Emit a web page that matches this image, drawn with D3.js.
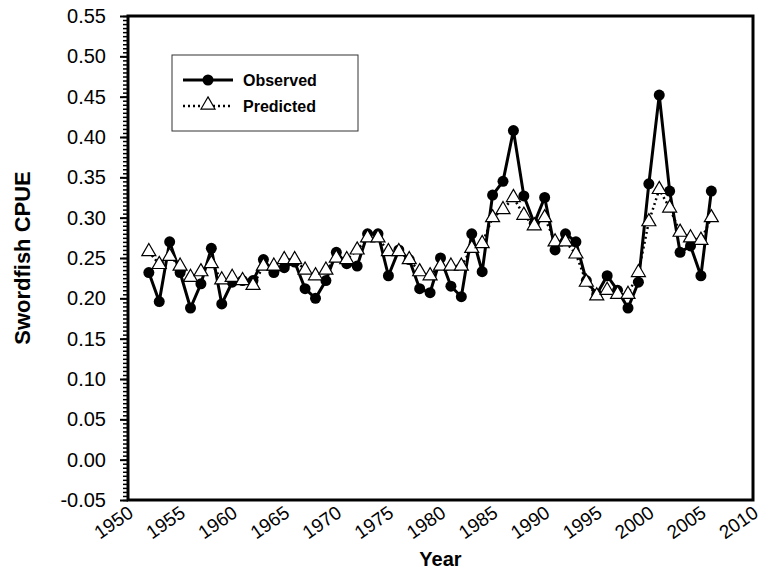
<!DOCTYPE html>
<html>
<head>
<meta charset="utf-8">
<script src="https://cdn.jsdelivr.net/npm/d3@7"></script>
<style>
  body { margin: 0; background: #fff; }
  text { font-family: "Liberation Sans", Arial, sans-serif; }
</style>
</head>
<body>
<div id="chart"></div>
<script>
// years on the x axis
const years = [1952,1953,1954,1955,1956,1957,1958,1959,1960,1961,1962,1963,1964,1965,1966,1967,1968,1969,
  1970,1971,1972,1973,1974,1975,1976,1977,1978,1979,1980,1981,1982,1983,1984,1985,1986,1987,1988,1989,
  1990,1991,1992,1993,1994,1995,1996,1997,1998,1999,2000,2001,2002,2003,2004,2005,2006]

// observed CPUE (filled circles)
const observed = [0.232,0.196,0.270,0.232,0.188,0.218,0.262,0.193,0.220,0.222,0.222,0.248,0.232,0.238,0.245,0.212,0.200,0.222,
  0.257,0.243,0.240,0.280,0.280,0.228,0.260,0.248,0.212,0.207,0.250,0.215,0.202,0.280,0.233,0.328,0.345,0.408,0.327,0.293,
  0.325,0.260,0.280,0.270,0.222,0.205,0.228,0.210,0.188,0.220,0.342,0.452,0.333,0.257,0.265,0.228,0.333]

// predicted CPUE (open triangles)
const predicted = [0.258,0.242,0.252,0.240,0.226,0.233,0.243,0.223,0.226,0.222,0.216,0.240,0.240,0.248,0.248,0.235,0.228,0.235,
  0.250,0.248,0.260,0.275,0.275,0.258,0.258,0.248,0.233,0.228,0.240,0.240,0.240,0.262,0.268,0.300,0.310,0.325,0.303,0.290,
  0.300,0.270,0.270,0.255,0.220,0.203,0.210,0.205,0.205,0.232,0.295,0.335,0.312,0.282,0.275,0.272,0.300]

const xTicks = [1950,1955,1960,1965,1970,1975,1980,1985,1990,1995,2000,2005,2010]
const yTicks = [-0.05,0.00,0.05,0.10,0.15,0.20,0.25,0.30,0.35,0.40,0.45,0.50,0.55]

const W = 762, H = 573
var margin = {top: 16, right: 9, bottom: 73, left: 128}
var width = W - margin.left - margin.right,
    height = H - margin.top - margin.bottom

const svg = d3.select("#chart").append("svg")
  .attr("width", W)
  .attr("height", H)

svg.append("rect").attr("width", W).attr("height", H).attr("fill", "#fff")

const g = svg.append("g")
  .attr("transform", "translate(" + margin.left + "," + margin.top + ")")

const x = d3.scaleLinear().domain([1950, 2010]).range([0, width])
const y = d3.scaleLinear().domain([-0.05, 0.55]).range([height, 0])

// minor ticks on y every 0.005
const yMinor = d3.range(-50, 551, 5).map(d => d / 1000)
g.append("g")
  .call(d3.axisLeft(y).tickValues(yMinor).tickSize(5).tickFormat(""))
  .call(a => a.select(".domain").remove())
  .selectAll("line").attr("stroke", "#000").attr("stroke-width", 1.5)

// major y axis
g.append("g")
  .call(d3.axisLeft(y).tickValues(yTicks).tickSize(8).tickPadding(14)
    .tickFormat(d => d3.format(".2f")(d).replace("\u2212", "-")))
  .call(a => a.select(".domain").remove())
  .call(a => a.selectAll("line").attr("stroke", "#000").attr("stroke-width", 2))
  .selectAll("text")
    .attr("fill", "#000")
    .style("font-size", "20px")

// x axis, labels slanted
g.append("g")
  .attr("transform", "translate(0," + height + ")")
  .call(d3.axisBottom(x).tickValues(xTicks).tickSize(0).tickPadding(0).tickFormat(d3.format("d")))
  .call(a => a.select(".domain").remove())
  .selectAll("text")
    .attr("fill", "#000")
    .style("font-size", "19px")
    .style("text-anchor", "end")
    .attr("x", -4)
    .attr("y", 2)
    .attr("dy", "0.75em")
    .attr("transform", "rotate(-35)")

// frame
g.append("rect")
  .attr("width", width)
  .attr("height", height)
  .attr("fill", "none")
  .attr("stroke", "#000")
  .attr("stroke-width", 3)

const obsData = years.map((d, i) => ({year: d, v: observed[i]}))
const preData = years.map((d, i) => ({year: d, v: predicted[i]}))

const line = d3.line().x(d => x(d.year)).y(d => y(d.v))

// observed line + circles
g.append("path")
  .datum(obsData)
  .attr("fill", "none")
  .attr("stroke", "#000")
  .attr("stroke-width", 3)
  .attr("d", line)

g.selectAll(".obs")
  .data(obsData)
  .enter()
  .append("circle")
  .attr("class", "obs")
  .attr("cx", d => x(d.year))
  .attr("cy", d => y(d.v))
  .attr("r", 5.5)
  .attr("fill", "#000")

// predicted dotted line + triangles
g.append("path")
  .datum(preData)
  .attr("fill", "none")
  .attr("stroke", "#000")
  .attr("stroke-width", 2.5)
  .attr("stroke-dasharray", "2,3")
  .attr("d", line)

const tri = d3.symbol().type(d3.symbolTriangle).size(85)
g.selectAll(".pre")
  .data(preData)
  .enter()
  .append("path")
  .attr("class", "pre")
  .attr("transform", d => "translate(" + x(d.year) + "," + y(d.v) + ")")
  .attr("d", tri)
  .attr("fill", "#fff")
  .attr("stroke", "#000")
  .attr("stroke-width", 1.2)

// axis titles
svg.append("text")
  .attr("transform", "translate(" + 30 + "," + (margin.top + height / 2) + ") rotate(-90)")
  .attr("text-anchor", "middle")
  .style("font-size", "22px")
  .style("font-weight", "bold")
  .text("Swordfish CPUE")

svg.append("text")
  .attr("x", margin.left + width / 2)
  .attr("y", 566)
  .attr("text-anchor", "middle")
  .style("font-size", "20px")
  .style("font-weight", "bold")
  .text("Year")

// legend
const lg = svg.append("g").attr("transform", "translate(172,55)")
lg.append("rect")
  .attr("width", 186)
  .attr("height", 76)
  .attr("fill", "#fff")
  .attr("stroke", "#333")
  .attr("stroke-width", 1)

lg.append("line").attr("x1", 11).attr("x2", 61).attr("y1", 25).attr("y2", 25)
  .attr("stroke", "#000").attr("stroke-width", 3)
lg.append("circle").attr("cx", 36).attr("cy", 25).attr("r", 5.5).attr("fill", "#000")
lg.append("text").attr("x", 71).attr("y", 25).attr("dy", "0.35em")
  .style("font-size", "16px").style("font-weight", "bold").text("Observed")

lg.append("line").attr("x1", 11).attr("x2", 61).attr("y1", 51).attr("y2", 51)
  .attr("stroke", "#000").attr("stroke-width", 2.5).attr("stroke-dasharray", "2,3")
lg.append("path").attr("transform", "translate(36,50)").attr("d", tri)
  .attr("fill", "#fff").attr("stroke", "#000").attr("stroke-width", 1.2)
lg.append("text").attr("x", 71).attr("y", 51).attr("dy", "0.35em")
  .style("font-size", "16px").style("font-weight", "bold").text("Predicted")
</script>
</body>
</html>
